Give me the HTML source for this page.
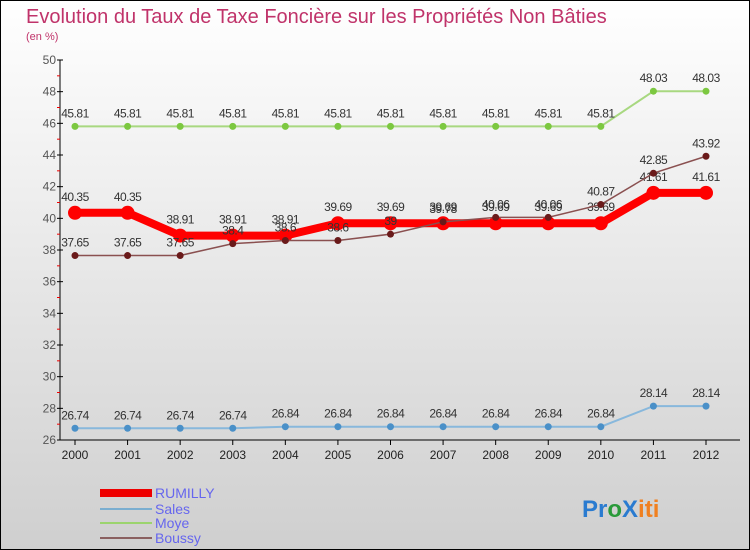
<!DOCTYPE html>
<html><head><meta charset="utf-8"><style>
body{margin:0}
#c{width:750px;height:550px;position:relative;overflow:hidden;font-family:"Liberation Sans",sans-serif}
</style></head><body>
<div id="c">
<svg id="s" width="750" height="550" xmlns="http://www.w3.org/2000/svg">
<defs><linearGradient id="bg" x1="0" y1="0" x2="0" y2="1"><stop offset="0" stop-color="#ffffff"/><stop offset="1" stop-color="#cfcfcf"/></linearGradient></defs>
<rect x="0.5" y="0.5" width="749" height="549" fill="url(#bg)" stroke="#000"/>
<text x="26" y="23" font-size="20" fill="#c0336a">Evolution du Taux de Taxe Foncière sur les Propriétés Non Bâties</text>
<text x="26" y="40" font-size="11" fill="#c0336a">(en %)</text>
<g id="axes"></g><g id="series"></g>
<g>
<rect x="100" y="489" width="52" height="8" fill="#e00"/>
<text x="155" y="498" font-size="14" fill="#6666ee">RUMILLY</text>
<line x1="100" y1="509" x2="152" y2="509" stroke="#7aaed0" stroke-width="2"/>
<text x="155" y="514" font-size="14" fill="#6666ee">Sales</text>
<line x1="100" y1="523" x2="152" y2="523" stroke="#9cd46e" stroke-width="2"/>
<text x="155" y="528" font-size="14" fill="#6666ee">Moye</text>
<line x1="100" y1="538" x2="152" y2="538" stroke="#8a6060" stroke-width="2"/>
<text x="155" y="543" font-size="14" fill="#6666ee">Boussy</text>
</g>
<text x="582" y="517" font-size="24" font-weight="bold"><tspan fill="#2a7bd0">Pr</tspan><tspan fill="#2a9a3a">o</tspan><tspan fill="#2a7bd0">X</tspan><tspan fill="#f08020">iti</tspan></text>
</svg>
</div>
<script>
const years=[2000,2001,2002,2003,2004,2005,2006,2007,2008,2009,2010,2011,2012];
const yTicks=[26,28,30,32,34,36,38,40,42,44,46,48,50];
const rumilly=[40.35,40.35,38.91,38.91,38.91,39.69,39.69,39.69,39.69,39.69,39.69,41.61,41.61];
const sales=[26.74,26.74,26.74,26.74,26.84,26.84,26.84,26.84,26.84,26.84,26.84,28.14,28.14];
const moye=[45.81,45.81,45.81,45.81,45.81,45.81,45.81,45.81,45.81,45.81,45.81,48.03,48.03];
const boussy=[37.65,37.65,37.65,38.4,38.6,38.6,39,39.78,40.06,40.06,40.87,42.85,43.92];
const NS="http://www.w3.org/2000/svg";
const X=i=>75+i*(706-75)/(years.length-1);
const Y=v=>440-(v-26)*380/24;
function mk(t,a,p){const e=document.createElementNS(NS,t);for(const k in a)e.setAttribute(k,a[k]);p.appendChild(e);return e;}
const ax=document.getElementById('axes');
let l=mk('line',{x1:60,y1:60,x2:60,y2:440,stroke:'#000'},ax);


l=mk('line',{x1:60,y1:440,x2:740,y2:440,stroke:'#000'},ax);


yTicks.forEach((v,i)=>{
 mk('line',{x1:57,y1:Y(v),x2:63,y2:Y(v),stroke:'#000'},ax);
 if(i<yTicks.length-1)mk('line',{x1:57,y1:Y(v+1),x2:60,y2:Y(v+1),stroke:'#e00'},ax);
 const t=mk('text',{x:56,y:Y(v)+4,'font-size':12,fill:'#555','text-anchor':'end'},ax);t.textContent=v;
 
 
});
years.forEach((y,i)=>{
 mk('line',{x1:X(i),y1:440,x2:X(i),y2:445,stroke:'#000'},ax);
 const t=mk('text',{x:X(i),y:459,'font-size':12,fill:'#222','text-anchor':'middle'},ax);t.textContent=y;
 
 
});
const sg=document.getElementById('series');
function series(name,data,col,dot,w,r,lab){
 const g=mk('g',{},sg);
 
 
 mk('polyline',{points:data.map((v,i)=>X(i)+','+Y(v)).join(' '),fill:'none',stroke:col,'stroke-width':w},g);
 data.forEach((v,i)=>{
  const c=mk('circle',{cx:X(i),cy:Y(v),r:r,fill:dot},g);
  
  
  const t=mk('text',{x:X(i),y:Y(v)-lab,'font-size':12,fill:'#333','text-anchor':'middle','letter-spacing':'-0.5'},g);
  t.textContent=v;
  
  
 });
}
series('moye',moye,'#a8d880','#7cc840',2,3.5,9);
series('sales',sales,'#88b8dc','#4a90c8',2,3.5,9);
series('rumilly',rumilly,'#f00','#f00',8,7,12);
series('boussy',boussy,'#8a5050','#6a1a1a',1.5,3.5,9);
</script>
</body></html>
